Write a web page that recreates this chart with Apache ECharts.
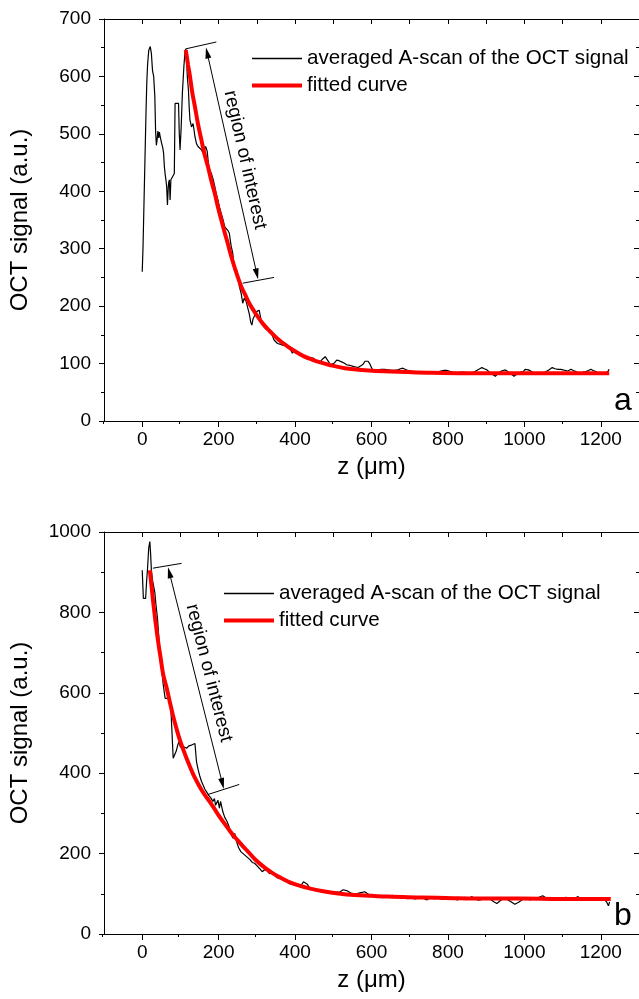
<!DOCTYPE html>
<html>
<head>
<meta charset="utf-8">
<script src="https://cdn.jsdelivr.net/npm/echarts@6/dist/echarts.min.js"></script>
<style>
  html, body { margin: 0; padding: 0; background: #fff; }
  #chart { width: 639px; height: 999px; }
</style>
</head>
<body>
<div id="chart"></div>
<script>
// panel a: averaged A-scan and fit, [z in um, signal]
const scanA = [[0,260],[2,300],[4,360],[6,420],[8,480],[10,540],[12,590],[14,620],[17,645],[21,652],[24,640],[27,610],[30,600],[33,565],[35,505],[37,480],[39,490],[41,505],[43,493],[45,503],[47,495],[49,489],[51,483],[54,475],[56,466],[58,443],[60,430],[62,420],[64,408],[66,376],[68,405],[69,414],[71,420],[73,385],[75,420],[79,425],[84,431],[86,553],[90,553],[95,553],[97,501],[99,472],[102,512],[105,570],[109,617],[112,643],[114,648],[116,629],[118,600],[121,576],[123,545],[125,524],[129,512],[133,518],[136,505],[138,495],[142,483],[146,478],[150,475],[155,472],[160,466],[163,463],[166,478],[168,478],[170,470],[172,469],[174,443],[178,435],[181,431],[186,420],[190,408],[194,395],[198,385],[203,370],[207,367],[211,352],[216,338],[220,335],[224,332],[228,327],[231,312],[233,304],[237,292],[241,263],[244,262],[246,257],[248,262],[250,263],[252,245],[254,235],[259,222],[263,205],[267,214],[272,208],[276,211],[280,187],[284,172],[287,167],[290,178],[293,182],[298,190],[302,193],[306,193],[311,176],[315,168],[319,164],[324,160],[328,158],[336,158],[340,150],[345,141],[350,138],[354,135],[360,134],[367,132],[374,131],[380,129],[388,124],[393,118],[397,122],[401,124],[405,120],[410,115],[416,114],[423,113],[430,112],[436,111],[443,110],[449,109],[457,103],[462,103],[466,103],[472,108],[479,112],[484,107],[488,103],[492,98],[496,95],[503,101],[509,106],[515,105],[522,103],[528,101],[535,98],[543,97],[552,95],[559,94],[565,93],[572,96],[578,99],[583,104],[587,107],[591,104],[596,99],[602,90],[610,89],[617,89],[625,90],[634,90],[643,89],[652,88],[660,88],[669,89],[676,91],[682,92],[688,90],[695,88],[703,87],[712,86],[720,85],[729,84],[738,85],[747,85],[755,84],[764,83],[772,85],[781,87],[790,88],[798,88],[807,86],[816,84],[825,84],[833,85],[842,85],[850,84],[859,84],[868,85],[875,88],[881,90],[885,92],[889,93],[895,91],[902,89],[909,85],[915,82],[920,79],[924,78],[930,82],[937,86],[944,88],[950,89],[957,86],[963,83],[968,80],[973,78],[979,81],[984,83],[990,85],[997,86],[1002,90],[1006,92],[1011,89],[1016,86],[1024,84],[1032,83],[1040,83],[1049,83],[1057,86],[1064,89],[1069,92],[1073,93],[1080,91],[1088,90],[1095,90],[1101,89],[1108,88],[1114,87],[1118,89],[1122,90],[1128,88],[1135,86],[1141,84],[1148,83],[1154,85],[1161,86],[1168,88],[1174,90],[1180,88],[1187,86],[1193,84],[1200,83],[1207,82],[1213,82],[1218,86],[1222,90]];
const fitA = [[114,646],[120,620],[125,600],[131,572],[138,547],[146,517],[155,489],[163,465],[172,443],[181,418],[190,396],[198,373],[207,350],[215,330],[224,309],[232,289],[241,269],[250,251],[259,234],[270,219],[280,205],[297,187],[315,170],[336,155],[358,141],[380,130],[401,121],[422,113],[444,107],[466,102],[488,98],[530,92],[574,89],[650,86],[747,84],[850,83],[950,83],[1050,83],[1150,83],[1222,83]];

// panel b
const scanB = [[0,905],[2,905],[3,835],[9,835],[11,870],[14,910],[17,960],[20,976],[22,945],[24,905],[27,880],[30,876],[33,850],[36,818],[40,785],[43,744],[46,702],[49,690],[52,650],[55,620],[58,600],[60,586],[66,586],[73,586],[75,560],[78,500],[81,437],[85,440],[89,455],[93,470],[96,478],[100,465],[104,462],[110,465],[116,462],[122,468],[129,470],[134,472],[138,474],[142,429],[146,410],[150,395],[155,380],[159,371],[164,360],[168,354],[174,345],[180,338],[185,330],[189,337],[192,320],[194,317],[198,333],[202,313],[205,330],[207,329],[211,304],[216,290],[222,280],[228,265],[234,245],[238,238],[242,250],[247,230],[252,215],[258,205],[264,200],[270,195],[276,190],[282,185],[288,178],[294,176],[300,170],[307,163],[314,155],[320,160],[326,158],[333,150],[340,155],[346,146],[353,140],[360,138],[368,137],[375,134],[383,126],[390,124],[398,122],[405,120],[412,118],[418,124],[422,130],[427,134],[432,124],[437,116],[442,112],[448,109],[455,108],[462,107],[470,106],[478,104],[486,103],[494,103],[502,104],[510,104],[518,105],[522,105],[526,110],[530,114],[535,108],[540,104],[548,101],[556,100],[564,101],[573,103],[582,105],[590,100],[598,97],[606,96],[614,95],[625,95],[635,92],[645,94],[655,96],[665,92],[675,90],[685,91],[695,88],[705,90],[715,87],[725,92],[735,89],[745,85],[755,90],[765,88],[775,91],[785,86],[795,89],[805,90],[815,87],[825,85],[835,89],[845,91],[855,88],[863,93],[870,87],[880,84],[890,86],[900,90],[910,87],[920,80],[928,76],[936,82],[945,88],[955,86],[965,80],[975,74],[985,79],[995,86],[1005,88],[1015,85],[1025,87],[1035,90],[1048,95],[1056,90],[1065,86],[1075,84],[1085,88],[1095,86],[1109,91],[1118,88],[1128,85],[1139,93],[1148,88],[1158,85],[1168,87],[1178,90],[1188,86],[1198,84],[1208,87],[1215,80],[1220,70],[1223,80]];
const fitB = [[20,905],[25,860],[30,815],[36,768],[42,725],[48,688],[55,645],[64,612],[73,574],[81,542],[90,510],[98,484],[107,460],[116,437],[125,416],[137,390],[150,367],[163,347],[176,330],[188,313],[200,295],[212,279],[225,262],[237,247],[250,233],[262,220],[275,207],[297,184],[318,167],[340,152],[362,140],[383,130],[405,122],[427,116],[449,111],[470,107],[513,101],[556,97],[600,95],[643,93],[730,91],[815,89],[900,88],[988,88],[1100,87],[1226,87]];

// ticks
const zMajor = [0, 200, 400, 600, 800, 1000, 1200];
const zMinor = [-100, 100, 300, 500, 700, 900, 1100, 1300];

// region-of-interest markers (data coords)
const capTopA = [[114, 648], [194, 660]];
const capBotA = [[263, 240], [345, 250]];
const arrowA = [[170, 641], [300, 256]];
const capTopB = [[28, 910], [103, 922]];
const capBotB = [[172, 347], [254, 372]];
const arrowB = [[71, 899], [210, 374]];

const FONT = '"Liberation Sans", Arial, sans-serif';
const names = ['averaged A-scan of the OCT signal', 'fitted curve'];

const chart = echarts.init(document.getElementById('chart'));

const grids = [
  { left: 103, top: 19, width: 540, height: 402 },
  { left: 103, top: 19, width: 540, height: 402 },
  { left: 102, top: 532, width: 540, height: 402 },
  { left: 102, top: 532, width: 540, height: 402 }
];

const black = { color: '#000', width: 1 };
const plain = v => String(v);
const xAxes = [];
const yAxes = [];
[[700, 100], [1000, 200]].forEach(([ymax, step], i) => {
  const g = 2 * i;
  xAxes.push({
    gridIndex: g, type: 'value', position: 'bottom', min: -100, max: 1300,
    axisLine: { onZero: false, lineStyle: black },
    axisTick: { customValues: zMajor, length: 6, lineStyle: black },
    axisLabel: { customValues: zMajor, formatter: plain, margin: 9, fontSize: 19, fontFamily: FONT, color: '#000' },
    splitLine: { show: false },
    name: 'z (μm)', nameLocation: 'middle', nameGap: 34,
    nameTextStyle: { fontSize: 24, fontFamily: FONT, color: '#000' }
  });
  xAxes.push({
    gridIndex: g, type: 'value', position: 'top', min: -100, max: 1300, interval: 100,
    axisLine: { onZero: false, lineStyle: black },
    axisTick: { inside: true, length: 5, lineStyle: black },
    axisLabel: { show: false }, splitLine: { show: false }
  });
  xAxes.push({
    gridIndex: g + 1, type: 'value', position: 'bottom', min: -100, max: 1300,
    axisLine: { show: false },
    axisTick: { customValues: zMinor, length: 3, lineStyle: black },
    axisLabel: { show: false }, splitLine: { show: false }
  });
  yAxes.push({
    gridIndex: g, type: 'value', position: 'left', min: 0, max: ymax, interval: step,
    axisLine: { show: true, onZero: false, lineStyle: black },
    axisTick: { show: true, length: 5, lineStyle: black },
    minorTick: { show: true, splitNumber: 2, length: 3, lineStyle: black },
    axisLabel: { formatter: plain, margin: 13, fontSize: 19, fontFamily: FONT, color: '#000' },
    splitLine: { show: false },
    name: 'OCT signal (a.u.)', nameLocation: 'middle', nameGap: 72,
    nameTextStyle: { fontSize: 24, fontFamily: FONT, color: '#000' }
  });
  yAxes.push({
    gridIndex: g, type: 'value', position: 'right', min: 0, max: ymax, interval: step,
    axisLine: { show: true, onZero: false, lineStyle: black },
    axisTick: { show: true, inside: true, length: 5, lineStyle: black },
    minorTick: { show: true, splitNumber: 2, length: 3, lineStyle: black },
    axisLabel: { show: false }, splitLine: { show: false }
  });
  yAxes.push({ gridIndex: g + 1, type: 'value', min: 0, max: ymax, show: false });
});

function roiLines(capTop, capBot, arrow) {
  const tri = { symbol: 'triangle', symbolSize: [6, 11] };
  return {
    silent: true, animation: false, symbol: 'none',
    label: { show: false },
    lineStyle: { color: '#000', width: 1, type: 'solid' },
    emphasis: { disabled: true },
    data: [
      [{ coord: capTop[0] }, { coord: capTop[1] }],
      [{ coord: capBot[0] }, { coord: capBot[1] }],
      [Object.assign({ coord: arrow[0] }, tri), Object.assign({ coord: arrow[1] }, tri)]
    ]
  };
}

function scanSeries(data, axisIdx, roi) {
  return {
    name: names[0], type: 'line', data: data,
    xAxisIndex: axisIdx, yAxisIndex: axisIdx,
    symbol: 'none', showSymbol: false, animation: false,
    lineStyle: { color: '#000', width: 1.2 }, itemStyle: { color: '#000' },
    markLine: roi
  };
}
function fitSeries(data, axisIdx) {
  return {
    name: names[1], type: 'line', data: data, smooth: 0.4,
    xAxisIndex: axisIdx, yAxisIndex: axisIdx,
    symbol: 'none', showSymbol: false, animation: false,
    lineStyle: { color: '#ff0000', width: 4 }, itemStyle: { color: '#ff0000' }
  };
}

const legendBase = {
  orient: 'vertical', itemWidth: 50, itemHeight: 14, itemGap: 6, padding: 0,
  selectedMode: false,
  data: [
    { name: names[0], icon: 'path://M0,0h50v1.3h-50z' },
    { name: names[1], icon: 'path://M0,0h50v4h-50z' }
  ],
  textStyle: { fontSize: 20.6, fontFamily: FONT, color: '#000' }
};

const roiText = (x, y, deg) => ({
  type: 'text', x: x, y: y, rotation: -deg * Math.PI / 180, silent: true,
  style: { text: 'region of interest', fontSize: 19, fontFamily: FONT, fill: '#000', align: 'center', verticalAlign: 'middle' }
});

chart.setOption({
  animation: false,
  backgroundColor: '#fff',
  grid: grids,
  xAxis: xAxes,
  yAxis: yAxes,
  legend: [
    Object.assign({ left: 252, top: 48 }, legendBase),
    Object.assign({ left: 224, top: 583 }, legendBase)
  ],
  series: [
    scanSeries(scanA, 0, roiLines(capTopA, capBotA, arrowA)),
    fitSeries(fitA, 0),
    scanSeries(scanB, 3, roiLines(capTopB, capBotB, arrowB)),
    fitSeries(fitB, 3)
  ],
  graphic: [
    roiText(245, 160, 77.4),
    roiText(209, 673, 75.8),
    { type: 'text', x: 614, y: 417, silent: true, style: { text: 'a', fontSize: 32, fontFamily: FONT, fill: '#000', verticalAlign: 'bottom' } },
    { type: 'text', x: 614, y: 932, silent: true, style: { text: 'b', fontSize: 32, fontFamily: FONT, fill: '#000', verticalAlign: 'bottom' } }
  ]
});
</script>
</body>
</html>
